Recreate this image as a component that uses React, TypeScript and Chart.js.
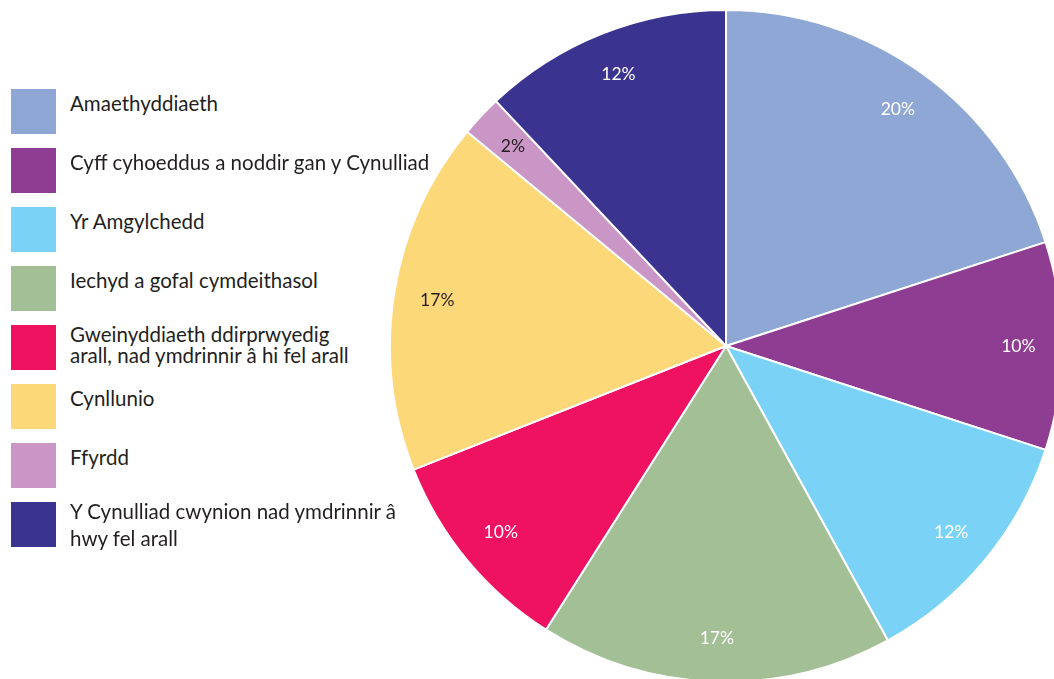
import React, { useEffect, useRef } from "react";
import { Chart, registerables } from "chart.js";

Chart.register(...registerables);

const categories = [
  "Amaethyddiaeth",
  "Cyff cyhoeddus a noddir gan y Cynulliad",
  "Yr Amgylchedd",
  "Iechyd a gofal cymdeithasol",
  "Gweinyddiaeth ddirprwyedig\narall, nad ymdrinnir â hi fel arall",
  "Cynllunio",
  "Ffyrdd",
  "Y Cynulliad cwynion nad ymdrinnir â\nhwy fel arall",
];
const values = [20, 10, 12, 17, 10, 17, 2, 12];
const colors = ["#8FA7D5", "#8E3D92", "#7AD3F7", "#A3BF96", "#EE1260", "#FDD878", "#CA96C5", "#3A3390"];
const labelColors = ["#ffffff", "#ffffff", "#ffffff", "#ffffff", "#ffffff", "#231F20", "#231F20", "#ffffff"];

const FONT = "Lato, 'Open Sans', sans-serif";

const pctLabels = {
  id: "pctLabels",
  afterDatasetsDraw(chart: any) {
    const ctx = chart.ctx;
    const meta = chart.getDatasetMeta(0);
    ctx.save();
    ctx.font = `17.5px ${FONT}`;
    ctx.textAlign = "center";
    ctx.textBaseline = "middle";
    meta.data.forEach((arc: any, i: number) => {
      const p = arc.getProps(["x", "y", "startAngle", "endAngle", "outerRadius"], true);
      const mid = (p.startAngle + p.endAngle) / 2;
      const r = p.outerRadius * 0.87;
      ctx.fillStyle = labelColors[i];
      ctx.fillText(values[i] + "%", p.x + Math.cos(mid) * r, p.y + Math.sin(mid) * r);
    });
    ctx.restore();
  },
};

export default function App() {
  const ref = useRef<HTMLCanvasElement>(null);
  useEffect(() => {
    if (!ref.current) return;
    const chart = new Chart(ref.current, {
      type: "pie",
      data: {
        labels: categories,
        datasets: [
          {
            data: values,
            backgroundColor: colors,
            borderColor: "#ffffff",
            borderWidth: 2,
          },
        ],
      },
      options: {
        animation: false,
        responsive: true,
        maintainAspectRatio: false,
        layout: { padding: 0 },
        plugins: { legend: { display: false }, tooltip: { enabled: false } },
      },
      plugins: [pctLabels],
    });
    return () => chart.destroy();
  }, []);

  return (
    <div style={{ position: "fixed", left: 0, top: 0, width: 1054, height: 679, overflow: "hidden", background: "#fff" }}>
      <div style={{ position: "absolute", left: 389, top: 9, width: 674, height: 674 }}>
        <canvas ref={ref} />
      </div>
      <div style={{ position: "absolute", left: 11, top: 89, fontFamily: FONT, color: "#231F20", fontSize: 20.5 }}>
        {categories.map((c, i) => {
          const two = c.includes("\n");
          const last = i === categories.length - 1;
          return (
            <div key={i} style={{ position: "relative", height: 45, marginBottom: 14 }}>
              <div style={{ position: "absolute", left: 0, top: 0, width: 45, height: 45, background: colors[i] }} />
              <div
                style={{
                  position: "absolute",
                  left: 59,
                  top: two ? (last ? -4 : -1.5) : 4,
                  lineHeight: last ? "27px" : "21.5px",
                  whiteSpace: "pre",
                }}
              >
                {c}
              </div>
            </div>
          );
        })}
      </div>
    </div>
  );
}
